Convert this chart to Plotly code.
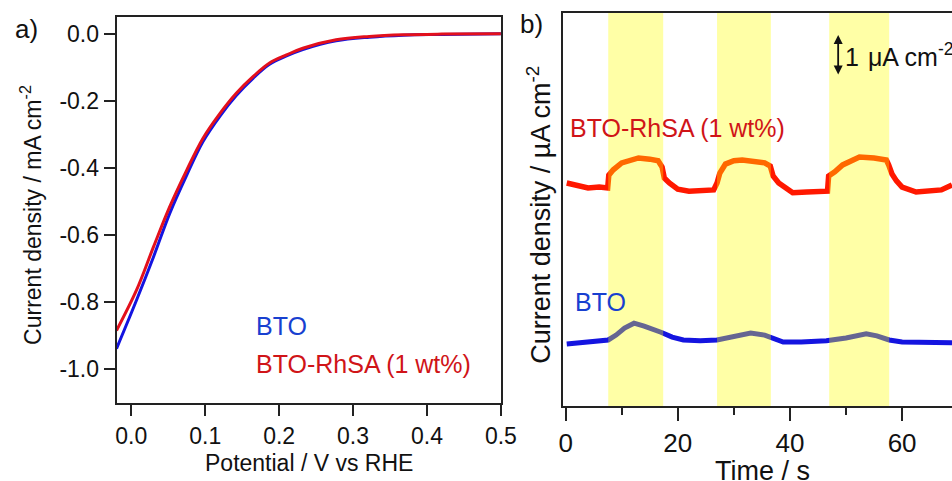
import plotly.graph_objects as go

# ---------------- Panel a data (LSV) ----------------
potential = [-0.02, 0.007, 0.030, 0.052, 0.075, 0.097, 0.120, 0.142, 0.165, 0.187,
             0.210, 0.232, 0.277, 0.322, 0.368, 0.42, 0.5]
j_rhsa = [-0.884, -0.764, -0.635, -0.515, -0.406, -0.311, -0.237, -0.177, -0.127, -0.087,
          -0.063, -0.043, -0.018, -0.008, -0.003, -0.001, 0.0]
j_bto = [-0.938, -0.794, -0.665, -0.535, -0.421, -0.321, -0.245, -0.184, -0.132, -0.091,
         -0.066, -0.047, -0.021, -0.010, -0.004, -0.002, 0.0]
a_yticks = [0.0, -0.2, -0.4, -0.6, -0.8, -1.0]
a_yticklabels = ["0.0", "-0.2", "-0.4", "-0.6", "-0.8", "-1.0"]
a_xticks = [0.0, 0.1, 0.2, 0.3, 0.4, 0.5]
a_xticklabels = ["0.0", "0.1", "0.2", "0.3", "0.4", "0.5"]

# ---------------- Panel b data (chopped photocurrent, µA cm-2, offset) ----------------
t_rhsa = [0.2, 2, 4, 6, 7.5, 7.7, 8.5, 10, 11.5, 13, 15, 16.5, 17.2, 17.6, 18.5, 20, 22, 24,
          26.4, 27, 27.5, 28.5, 30, 31.5, 33.5, 35.5, 36.5, 37, 38, 39.5, 40.5, 43, 46.7,
          46.9, 48, 49.4, 51, 52.4, 55, 57.2, 57.6, 58.2, 59, 60, 62.5, 65, 67, 68.9]
i_rhsa = [5.44, 5.37, 5.32, 5.34, 5.32, 5.63, 5.76, 5.93, 6.00, 6.05, 6.02, 5.98, 5.83, 5.56,
          5.44, 5.29, 5.24, 5.24, 5.27, 5.44, 5.68, 5.90, 5.98, 6.00, 5.98, 5.93, 5.85, 5.61,
          5.44, 5.27, 5.20, 5.22, 5.24, 5.61, 5.71, 5.88, 6.00, 6.07, 6.05, 6.00, 5.88, 5.66,
          5.49, 5.34, 5.22, 5.24, 5.27, 5.39]
t_bto = [0.2, 3, 6, 7.6, 9, 10.5, 12.2, 14, 17, 19, 21, 24, 27, 30, 33, 35.5, 37, 38.8, 42,
         46.5, 50, 53.6, 55.5, 57.7, 60, 64, 68.9]
i_bto = [1.51, 1.54, 1.59, 1.61, 1.73, 1.90, 2.02, 1.95, 1.80, 1.68, 1.61, 1.59, 1.61, 1.71,
         1.78, 1.73, 1.66, 1.56, 1.56, 1.59, 1.66, 1.76, 1.71, 1.61, 1.56, 1.54, 1.54]
light_on = [7.6, 27.0, 47.0]
light_off = [17.4, 36.6, 57.7]
b_xticks = [0, 20, 40, 60]

FONT = "Liberation Sans, Arial, sans-serif"
RED = "#e3101c"
BLUE = "#1414e0"
RED_B = "#ff1800"
TXT_RED = "#d01418"
TXT_BLUE = "#1840d0"
AX = "#222222"

REF_W, H = 952, 481
FIG_W = 968  # page is captured 968 wide and resized to 952


def px(x):
    return x / REF_W


def py(y):
    return 1 - y / H


fig = go.Figure()
fig.add_trace(go.Scatter(x=potential, y=j_bto, mode="lines", line=dict(color=BLUE, width=3, shape="spline"),
                         xaxis="x", yaxis="y", showlegend=False))
fig.add_trace(go.Scatter(x=potential, y=j_rhsa, mode="lines", line=dict(color=RED, width=3, shape="spline"),
                         xaxis="x", yaxis="y", showlegend=False))
fig.add_trace(go.Scatter(x=t_rhsa, y=i_rhsa, mode="lines", line=dict(color=RED_B, width=5.5),
                         xaxis="x2", yaxis="y2", showlegend=False))
fig.add_trace(go.Scatter(x=t_bto, y=i_bto, mode="lines", line=dict(color=BLUE, width=5),
                         xaxis="x2", yaxis="y2", showlegend=False))

shapes = []
for t0, t1 in zip(light_on, light_off):
    shapes.append(dict(type="rect", xref="x2", yref="y2 domain", x0=t0, x1=t1, y0=0, y1=1,
                       fillcolor="rgb(255,255,0)", opacity=0.35, line=dict(width=0), layer="above"))

axis_common = dict(showline=True, linecolor=AX, linewidth=1.8, showgrid=False, zeroline=False,
                   ticks="outside", tickcolor=AX, tickwidth=1.8)

fig.update_layout(
    width=FIG_W, height=H, autosize=False,
    margin=dict(l=0, r=0, t=0, b=0),
    paper_bgcolor="white", plot_bgcolor="white",
    font=dict(family=FONT, color="#111111"),
    shapes=shapes,
    xaxis=dict(**axis_common, domain=[px(113), px(499)], range=[-0.02, 0.5], mirror=True,
               tickvals=a_xticks, ticktext=a_xticklabels, ticklen=11, tickfont=dict(size=23),
               anchor="y"),
    yaxis=dict(**axis_common, domain=[py(403), py(17)], range=[-1.1, 0.05], mirror=True,
               tickvals=a_yticks, ticktext=a_yticklabels, ticklen=11, tickfont=dict(size=23),
               anchor="x"),
    xaxis2=dict(**axis_common, domain=[px(561), 1.0], range=[-0.53, 68.9], mirror=True,
                tickvals=b_xticks, ticklen=13, tickfont=dict(size=26), anchor="y2",
                minor=dict(dtick=10, tick0=0, ticks="outside", ticklen=7, tickcolor=AX, tickwidth=1.8)),
    yaxis2=dict(showline=True, linecolor=AX, linewidth=1.8, showgrid=False, zeroline=False,
                domain=[py(406), py(13)], range=[0, 9.585], ticks="", showticklabels=False,
                mirror=False, anchor="x2"),
)

ann = []
# panel labels
ann.append(dict(text="a)", x=px(9), y=py(29), xref="paper", yref="paper", xanchor="left",
                yanchor="middle", showarrow=False, font=dict(size=26)))
ann.append(dict(text="b)", x=px(516), y=py(24), xref="paper", yref="paper", xanchor="left",
                yanchor="middle", showarrow=False, font=dict(size=26)))
# axis titles
ann.append(dict(text="Potential / V vs RHE", x=px(306), y=py(463), xref="paper", yref="paper",
                xanchor="center", yanchor="middle", showarrow=False, font=dict(size=23)))
ann.append(dict(text="Current density / mA cm<sup>-2</sup>", x=px(27), y=py(215), xref="paper",
                yref="paper", xanchor="center", yanchor="middle", textangle=-90, showarrow=False,
                font=dict(size=23)))
ann.append(dict(text="Time / s", x=px(762), y=py(471), xref="paper", yref="paper",
                xanchor="center", yanchor="middle", showarrow=False, font=dict(size=27)))
ann.append(dict(text="Current density / µA cm<sup>-2</sup>", x=px(537), y=py(215), xref="paper",
                yref="paper", xanchor="center", yanchor="middle", textangle=-90, showarrow=False,
                font=dict(size=27)))
# series labels
ann.append(dict(text="BTO", x=px(251), y=py(326), xref="paper", yref="paper", xanchor="left",
                yanchor="middle", showarrow=False, font=dict(size=25, color=TXT_BLUE)))
ann.append(dict(text="BTO-RhSA (1 wt%)", x=px(251), y=py(364), xref="paper", yref="paper",
                xanchor="left", yanchor="middle", showarrow=False, font=dict(size=25, color=TXT_RED)))
ann.append(dict(text="BTO-RhSA (1 wt%)", x=px(566), y=py(128), xref="paper", yref="paper",
                xanchor="left", yanchor="middle", showarrow=False, font=dict(size=25, color=TXT_RED)))
ann.append(dict(text="BTO", x=px(571), y=py(302), xref="paper", yref="paper", xanchor="left",
                yanchor="middle", showarrow=False, font=dict(size=25, color=TXT_BLUE)))
# scale bar (1 µA cm-2)
ann.append(dict(text="", x=48.6, y=9.05, ax=48.6, ay=8.05, xref="x2", yref="y2", axref="x2",
                ayref="y2", showarrow=True, arrowhead=2, arrowside="end+start", arrowsize=1,
                arrowwidth=1.8, arrowcolor="#111111"))
ann.append(dict(text="1 \u200aμA cm<sup>-2</sup>", x=px(843), y=py(55), xref="paper", yref="paper",
                xanchor="left", yanchor="middle", showarrow=False, font=dict(size=25)))

fig.update_layout(annotations=ann)

post = ("document.documentElement.style.overflow='hidden';"
        "document.body.style.margin='0';document.body.style.padding='0';"
        "document.body.style.overflow='hidden';")
fig.write_html("out.html", config={"displayModeBar": False}, post_script=post)
